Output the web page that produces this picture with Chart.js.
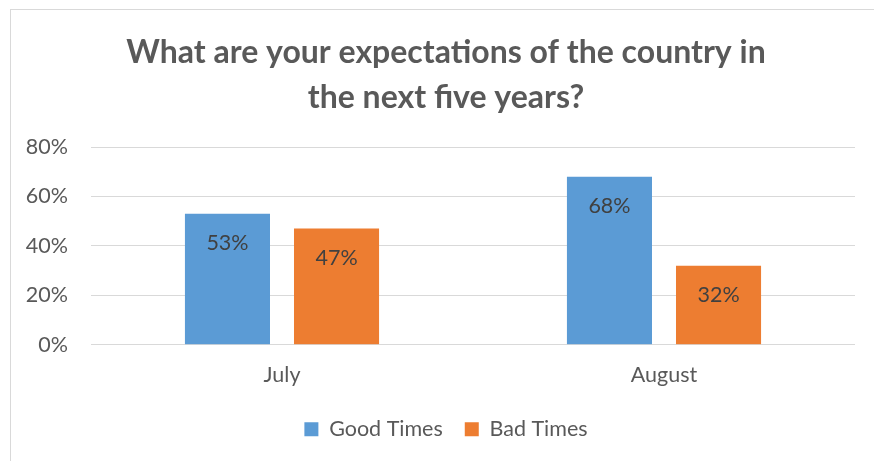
<!DOCTYPE html>
<html>
<head>
<meta charset="utf-8">
<script src="https://cdn.jsdelivr.net/npm/chart.js@4/dist/chart.umd.min.js"></script>
<style>
  html, body { margin: 0; padding: 0; background: #fff; }
  #wrap { position: relative; width: 874px; height: 461px; overflow: hidden; }
  #frame { position: absolute; left: 10px; top: 9px; width: 900px; height: 500px; border: 1px solid #d9d9d9; box-sizing: border-box; }
  canvas { position: absolute; left: 0; top: 0; }
</style>
</head>
<body>
<div id="wrap">
  <div id="frame"></div>
  <canvas id="expectChart" width="874" height="461"></canvas>
</div>
<script>
const months = ['July', 'August'];
const goodTimes = [53, 68];
const badTimes = [47, 32];
const yTicks = [0, 20, 40, 60, 80];

const fontName = 'Lato, "Open Sans", sans-serif';
const textSize = 21.5;

// value labels inside the bars, near the top
const barLabels = {
  id: 'barLabels',
  afterDatasetsDraw(chart) {
    const ctx = chart.ctx;
    ctx.save();
    ctx.font = textSize + 'px ' + fontName;
    ctx.fillStyle = '#404040';
    ctx.textAlign = 'center';
    ctx.textBaseline = 'middle';
    chart.data.datasets.forEach((ds, i) => {
      chart.getDatasetMeta(i).data.forEach((bar, j) => {
        ctx.fillText(ds.data[j] + '%', bar.x, bar.y + 29);
      });
    });
    ctx.restore();
  }
};

let expectChartElement = document.getElementById('expectChart');
const expectChart = new Chart(expectChartElement, {
  type: 'bar',
  data: {
    labels: months,
    datasets: [{
      label: 'Good Times',
      data: goodTimes,
      backgroundColor: '#5B9BD5',
      categoryPercentage: 0.571,
      barPercentage: 0.78
    }, {
      label: 'Bad Times',
      data: badTimes,
      backgroundColor: '#ED7D31',
      categoryPercentage: 0.571,
      barPercentage: 0.78
    }]
  },
  options: {
    responsive: false,
    animation: false,
    layout: { padding: { left: 18, right: 0, top: 0, bottom: 11 } },
    plugins: {
      title: {
        display: true,
        text: ['What are your expectations of the country in', 'the next five years?'],
        color: '#595959',
        font: { family: fontName, size: 32, weight: 'bold', lineHeight: 1.4 },
        padding: { top: 30, bottom: 27.5 }
      },
      legend: {
        position: 'bottom',
        labels: {
          color: '#595959',
          font: { family: fontName, size: textSize },
          boxWidth: 14,
          boxHeight: 14,
          padding: 22
        }
      },
      tooltip: { enabled: false }
    },
    scales: {
      x: {
        grid: { display: false },
        border: { display: false },
        ticks: { color: '#595959', font: { family: fontName, size: textSize }, padding: 9 }
      },
      y: {
        min: 0,
        max: 80,
        afterFit: (scale) => { scale.width = 73; },
        afterBuildTicks: (scale) => { scale.ticks = yTicks.map(v => ({ value: v })); },
        grid: { color: '#d9d9d9', lineWidth: 1, drawTicks: false },
        border: { display: false },
        ticks: {
          color: '#595959',
          font: { family: fontName, size: textSize },
          padding: 23,
          callback: (v) => v + '%'
        }
      },
      // empty right axis, only keeps a margin on the right
      spacer: {
        type: 'linear',
        position: 'right',
        afterFit: (scale) => { scale.width = 19; },
        grid: { display: false },
        border: { display: false },
        ticks: { display: false }
      }
    }
  },
  plugins: [barLabels]
});
</script>
</body>
</html>
